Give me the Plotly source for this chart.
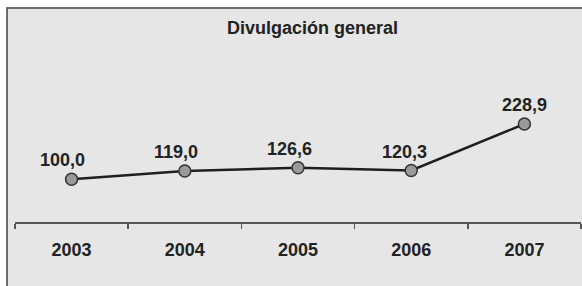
import plotly.graph_objects as go

years = ["2003", "2004", "2005", "2006", "2007"]
values = [100.0, 119.0, 126.6, 120.3, 228.9]
labels = ["100,0", "119,0", "126,6", "120,3", "228,9"]
title_text = "Divulgación general"

FONT = "Liberation Sans, Arial, sans-serif"
idx = list(range(len(years)))

fig = go.Figure()
fig.add_trace(go.Scatter(
    x=idx, y=values, mode="lines+markers",
    line=dict(color="#1e1e1e", width=2.5),
    marker=dict(size=12, color="#9a9a9a", line=dict(color="#333333", width=1.5)),
    hoverinfo="skip", showlegend=False,
))

label_shift = [-9, -9, -9, -7, 0]
for x, y, t, s in zip(idx, values, labels, label_shift):
    fig.add_annotation(x=x, y=y, xref="x", yref="y", text="<b>%s</b>" % t,
                       showarrow=False, xanchor="center", yanchor="bottom",
                       yshift=7, xshift=s,
                       font=dict(family=FONT, size=18, color="#222222"))

# chart area background with border (top and left visible)
fig.add_shape(type="rect", xref="paper", yref="paper",
              x0=-0.0141, x1=1.05, y0=-0.4, y1=1.0,
              fillcolor="#e6e6e6", line=dict(color="#444444", width=1.5),
              layer="below")

fig.update_layout(
    width=582, height=286,
    margin=dict(l=15, r=1, t=8, b=64, autoexpand=False),
    paper_bgcolor="white", plot_bgcolor="rgba(0,0,0,0)",
    title=dict(text="<b>%s</b>" % title_text, x=0.537, xanchor="center",
               y=0.902, yanchor="middle", yref="container",
               font=dict(family=FONT, size=18, color="#222222")),
    xaxis=dict(range=[-0.5, 4.5], showline=True, automargin=False,
               linecolor="#555555", linewidth=2, ticks="",
               tickvals=idx, ticktext=["<b>%s</b>" % y for y in years],
               showgrid=False, zeroline=False,
               tickfont=dict(family=FONT, size=18, color="#222222"),
               minor=dict(tickvals=[i - 0.5 for i in idx] + [idx[-1] + 0.5],
                          ticks="outside", ticklen=5, tickcolor="#555555",
                          tickwidth=1.5, showgrid=False),
               ticklabelstandoff=10),
    yaxis=dict(range=[0, 500], visible=False, showgrid=False, zeroline=False),
)

fig.write_html("out.html", config=dict(displayModeBar=False, staticPlot=True),
               post_script="document.body.style.margin='0';document.body.style.overflow='hidden';")
